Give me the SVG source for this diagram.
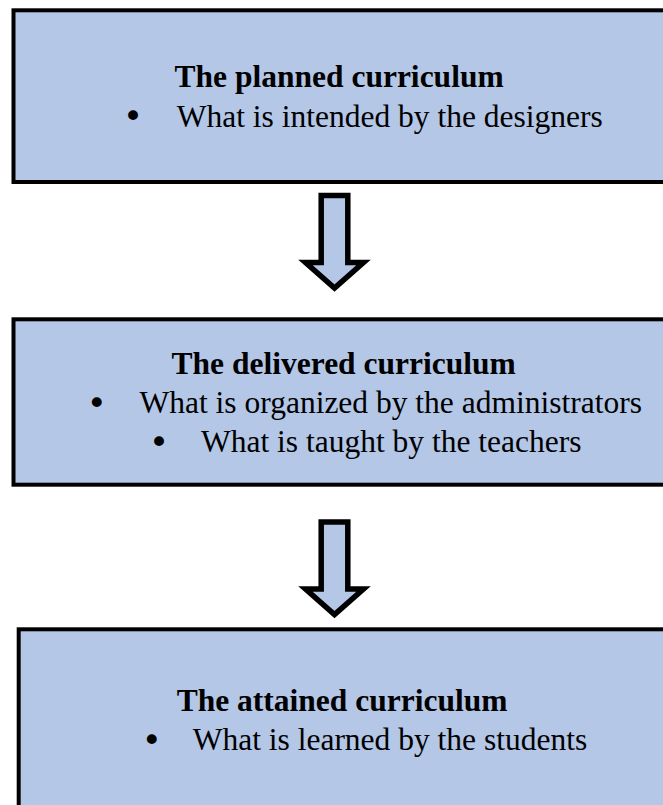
<svg xmlns="http://www.w3.org/2000/svg" width="663" height="805" viewBox="0 0 663 805">
<style>
.box{fill:#B4C7E7;stroke:#000;stroke-width:4}
.arrow{fill:#B4C7E7;stroke:#000;stroke-width:5.5;stroke-linejoin:miter;stroke-miterlimit:10}
text{font-family:"Liberation Serif","Times New Roman",serif;font-size:31.5px;fill:#000}
.title{font-weight:bold}
.bul{text-anchor:middle;font-family:"DejaVu Sans",sans-serif;font-size:34px}
</style>
<rect width="663" height="805" fill="#fff"/>
<g id="planned">
<rect class="box" x="13.5" y="10.3" width="660" height="171.7"/>
<text class="title" x="174.6" y="87">The planned curriculum</text>
<text class="bul" x="133" y="128">•</text>
<text x="176.7" y="127">What is intended by the designers</text>
</g>
<g id="delivered">
<rect class="box" x="13.5" y="319.3" width="660" height="165.4"/>
<text class="title" x="171.6" y="374">The delivered curriculum</text>
<text class="bul" x="96.7" y="415">•</text>
<text x="139.5" y="413">What is organized by the administrators</text>
<text class="bul" x="159" y="454">•</text>
<text x="201" y="452">What is taught by the teachers</text>
</g>
<g id="attained">
<rect class="box" x="18.7" y="629.3" width="660" height="200"/>
<text class="title" x="176.7" y="711">The attained curriculum</text>
<text class="bul" x="151.7" y="752">•</text>
<text x="192.7" y="750">What is learned by the students</text>
</g>
<g id="connectors">
<path class="arrow" d="M321.2,195.5 L347.8,195.5 L347.8,262.5 L363.5,262.5 L334.5,288 L305.5,262.5 L321.2,262.5 Z"/>
<path class="arrow" d="M321.2,522.1 L347.8,522.1 L347.8,589.1 L363.5,589.1 L334.5,614.6 L305.5,589.1 L321.2,589.1 Z"/>
</g>
</svg>
